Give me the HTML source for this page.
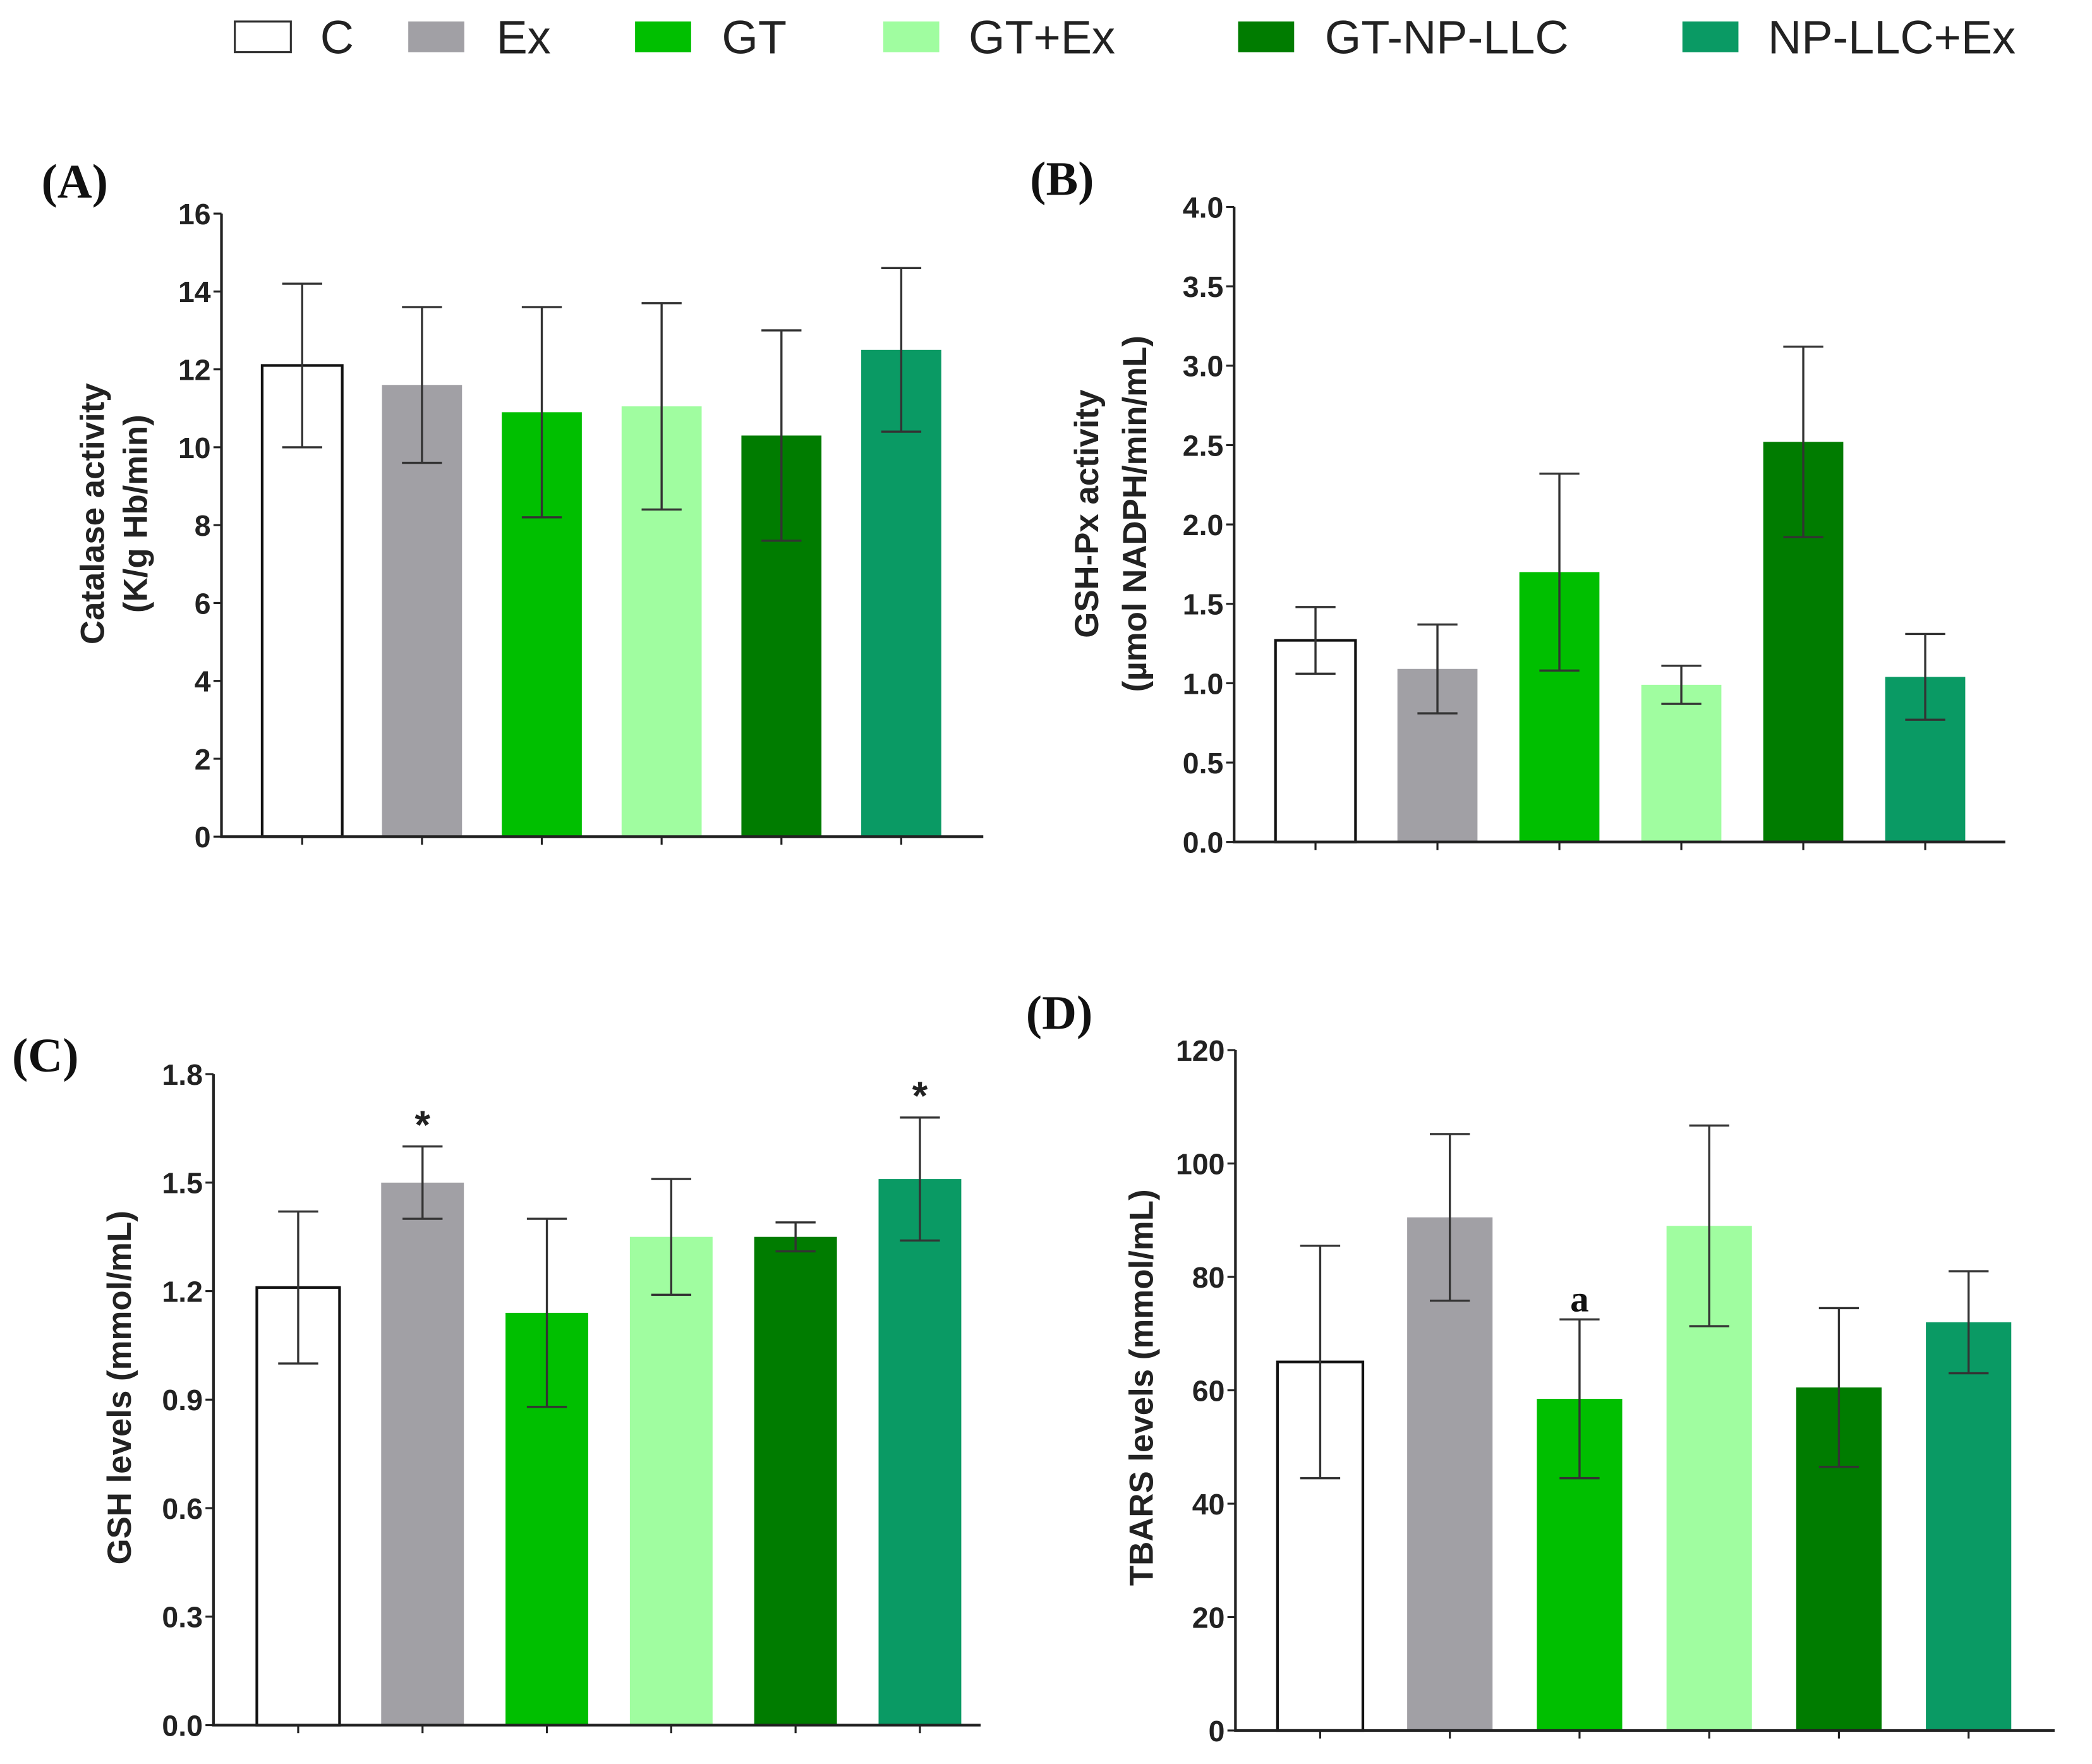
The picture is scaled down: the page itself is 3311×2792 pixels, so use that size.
<!DOCTYPE html>
<html><head><meta charset="utf-8"><style>
html,body{margin:0;padding:0;background:#fff;}
svg{display:block;}
.tick{font-family:"Liberation Sans Narrow","Liberation Sans",sans-serif;font-weight:bold;font-size:22px;fill:#222;}
.ytitle{font-family:"Liberation Sans",sans-serif;font-weight:bold;font-size:25px;fill:#222;}
.plabel{font-family:"Liberation Serif",serif;font-weight:bold;font-size:36px;fill:#111;}
.leg{font-family:"Liberation Sans",sans-serif;font-size:35px;fill:#222;}
</style></head><body>
<svg id="fig" width="3311" height="2792" viewBox="0 0 1568 1322" xmlns="http://www.w3.org/2000/svg"></svg>
<script>
const groups = ["C","Ex","GT","GT+Ex","GT-NP-LLC","NP-LLC+Ex"];
const colors = ["#ffffff","#a1a0a5","#00bf00","#a0fda0","#007c00","#0a9a64"];

const catalaseMean = [12.1, 11.6, 10.9, 11.05, 10.3, 12.5];
const catalaseErr = [2.1, 2.0, 2.7, 2.65, 2.7, 2.1];
const catalaseTicks = [0,2,4,6,8,10,12,14,16];

const gpxMean = [1.27, 1.09, 1.70, 0.99, 2.52, 1.04];
const gpxErr = [0.21, 0.28, 0.62, 0.12, 0.60, 0.27];
const gpxTicks = ["0.0","0.5","1.0","1.5","2.0","2.5","3.0","3.5","4.0"];

const gshMean = [1.21, 1.50, 1.14, 1.35, 1.35, 1.51];
const gshErr = [0.21, 0.10, 0.26, 0.16, 0.04, 0.17];
const gshTicks = ["0.0","0.3","0.6","0.9","1.2","1.5","1.8"];
const gshMarks = ["","*","","","","*"];

const tbarsMean = [65, 90.5, 58.5, 89, 60.5, 72];
const tbarsErr = [20.5, 14.7, 14, 17.7, 14, 9];
const tbarsTicks = [0,20,40,60,80,100,120];
const tbarsMarks = ["","","a","","",""];

const NS="http://www.w3.org/2000/svg";
const svg=document.getElementById('fig');
function mk(tag,attrs,parent){const e=document.createElementNS(NS,tag);for(const k in attrs)e.setAttribute(k,attrs[k]);(parent||svg).appendChild(e);return e;}

function panel(o){
  const g=mk('g',{});
  
  
  const ymax=parseFloat(o.ticks[o.ticks.length-1]);
  const y=v=>o.y0-(v/ymax)*(o.y0-o.yTop);
  const xc=i=>o.firstC+i*o.spacing;
  o.mean.forEach((m,i)=>{
    const r=mk('rect',{x:xc(i)-o.bw/2,y:y(m),width:o.bw,height:o.y0-y(m),fill:colors[i],stroke:i===0?'#111':'none','stroke-width':i===0?2:0},g);
    
    
    const hi=y(m+o.err[i]), lo=y(m-o.err[i]);
    const eb=mk('path',{d:`M${xc(i)} ${hi}V${lo}M${xc(i)-15} ${hi}H${xc(i)+15}M${xc(i)-15} ${lo}H${xc(i)+15}`,stroke:'#333','stroke-width':1.6,fill:'none'},g);
    
    
    if(o.marks&&o.marks[i]){
      const t=mk('text',{x:xc(i),y:hi-6,'text-anchor':'middle',class:o.marks[i]==='*'?'tick':'plabel',style:o.marks[i]==='*'?'font-size:30px':'font-size:28px'},g);
      t.textContent=o.marks[i];
      
      
    }
    const tk=mk('line',{x1:xc(i),x2:xc(i),y1:o.y0,y2:o.y0+6,stroke:'#222','stroke-width':1.5},g);
    
    
  });
  const ax=mk('path',{d:`M${o.ax} ${o.yTop}V${o.y0}H${o.xEnd}`,stroke:'#222','stroke-width':2,fill:'none'},g);
  
  
  o.ticks.forEach(t=>{
    const v=parseFloat(t);
    mk('line',{x1:o.ax-6,x2:o.ax,y1:y(v),y2:y(v),stroke:'#222','stroke-width':1.5},g);
    const tx=mk('text',{x:o.ax-8,y:y(v)+8,'text-anchor':'end',class:'tick'},g);
    tx.textContent=t;
    
    
  });
  o.titles.forEach((tt,k)=>{
    const t=mk('text',{x:0,y:0,'text-anchor':'middle',class:'ytitle',transform:`translate(${o.tx[k]},${o.tcy}) rotate(-90)`},g);
    t.textContent=tt;
    
    
  });
  const pl=mk('text',{x:o.lx,y:o.ly,class:'plabel'},g);
  pl.textContent=o.label;
  
  
}

panel({name:'panel-a-catalase',mean:catalaseMean,err:catalaseErr,ticks:catalaseTicks,ax:166,yTop:160,y0:627,xEnd:737,firstC:226.5,spacing:89.8,bw:60,titles:['Catalase activity','(K/g Hb/min)'],tx:[78,110],tcy:385,label:'(A)',lx:31,ly:148});
panel({name:'panel-b-gshpx',mean:gpxMean,err:gpxErr,ticks:gpxTicks,ax:925,yTop:155,y0:631,xEnd:1503,firstC:986,spacing:91.4,bw:60,titles:['GSH-Px activity','(µmol NADPH/min/mL)'],tx:[823,859],tcy:385,label:'(B)',lx:772,ly:146});
panel({name:'panel-c-gsh',mean:gshMean,err:gshErr,ticks:gshTicks,ax:160,yTop:805,y0:1293,xEnd:735,firstC:223.5,spacing:93.2,bw:62,titles:['GSH levels (mmol/mL)'],tx:[98],tcy:1040,label:'(C)',lx:9,ly:803,marks:gshMarks});
panel({name:'panel-d-tbars',mean:tbarsMean,err:tbarsErr,ticks:tbarsTicks,ax:926,yTop:787,y0:1297,xEnd:1540,firstC:989.5,spacing:97.2,bw:64,titles:['TBARS levels (mmol/mL)'],tx:[864],tcy:1040,label:'(D)',lx:769,ly:771,marks:tbarsMarks});

const legSw=[176,306,476,662,928,1261];
const legTx=[240,372,541,726,993,1325];
const lg=mk('g',{});


groups.forEach((gname,i)=>{
  const r=mk('rect',{x:legSw[i],y:16,width:42,height:23,fill:colors[i],stroke:i===0?'#333':'none','stroke-width':i===0?1.5:0},lg);
  
  
  const t=mk('text',{x:legTx[i],y:40,class:'leg'},lg);
  t.textContent=gname;
  
  
});
</script>
</body></html>
